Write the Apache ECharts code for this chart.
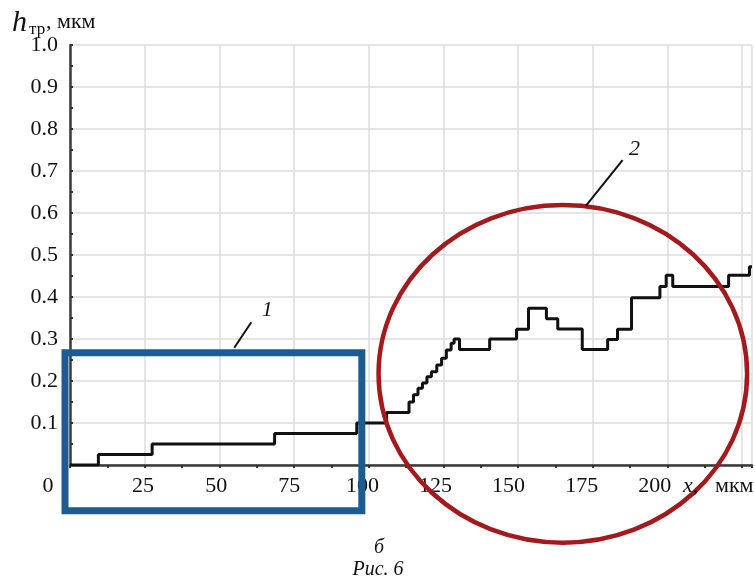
<!DOCTYPE html>
<html><head><meta charset="utf-8">
<script src="https://cdn.jsdelivr.net/npm/echarts@6/dist/echarts.min.js"></script>
<style>html,body{margin:0;padding:0;background:#fff}#c{width:755px;height:582px}</style>
</head><body><div id="c"></div>
<script>
// Step profile: x (мкм) where the value changes, and the new value h (мкм)
const stepX = [0, 9.5, 27.5, 68.5, 96, 106, 113.5, 115, 116.5, 118, 119.5, 121, 122.8, 124.4, 126, 127.6, 128.6, 130.4, 140.5, 149.5, 153.5, 159.5, 163.3, 171.5, 180, 183.3, 188, 197.5, 199.6, 201.8, 220.5, 227.5, 228.33];
const stepY = [0, 0.025, 0.05, 0.075, 0.1, 0.125, 0.15, 0.167, 0.183, 0.195, 0.21, 0.222, 0.238, 0.254, 0.274, 0.29, 0.3, 0.275, 0.3, 0.323, 0.373, 0.348, 0.324, 0.275, 0.299, 0.323, 0.398, 0.425, 0.452, 0.425, 0.452, 0.472, 0.472];
const xTickLabels = ['25', '50', '75', '100', '125', '150', '175', '200'];
const yTickLabels = ['0.1', '0.2', '0.3', '0.4', '0.5', '0.6', '0.7', '0.8', '0.9', '1.0'];
// Annotations in data units
const box1 = [-1.67, 0.267, 97.7, -0.109];       // x0, yTop, x1, yBottom
const ellipse2 = [165, 0.217, 61.7, 0.402];       // cx, cy, rx, ry
const leader1 = [[55, 0.279], [60.7, 0.340]];
const label1 = [66, 0.368];
const leader2 = [[172.7, 0.617], [185, 0.726]];
const label2 = [189, 0.752];

const FONT = 'Liberation Serif';
const data = stepX.map((x, i) => [x, stepY[i]]);

const chart = echarts.init(document.getElementById('c'), null, {renderer: 'canvas'});
const option = {
  backgroundColor: '#fff',
  animation: false,
  grid: {left: 70, right: 0, top: 45, bottom: 117},
  xAxis: [
    {type: 'value', position: 'bottom', min: 0, max: 228.33, interval: 25,
     axisLine: {show: true, onZero: false, lineStyle: {color: '#b8b8b8', width: 1.5}},
     axisTick: {show: false}, axisLabel: {show: false},
     splitLine: {show: true, lineStyle: {color: '#dcdcdc', width: 1.5}}},
    {type: 'value', position: 'top', min: 0, max: 228.33, interval: 25,
     axisLine: {show: true, lineStyle: {color: '#3a3a3a', width: 2.5}},
     axisTick: {show: true, inside: true, length: 3, lineStyle: {color: '#333', width: 2}},
     minorTick: {show: true, splitNumber: 2, length: 3, lineStyle: {color: '#333', width: 2}},
     axisLabel: {show: false}, splitLine: {show: false}},
    {type: 'value', position: 'bottom', min: 0, max: 685 / 2.937, interval: 25,
     axisLine: {show: false}, axisTick: {show: false}, splitLine: {show: false},
     axisLabel: {show: true, margin: 10, fontFamily: FONT, fontSize: 22, color: '#111',
       formatter: v => { const s = String(Math.round(v)); return xTickLabels.includes(s) ? s : ''; }}}
  ],
  yAxis: {type: 'value', min: 0, max: 1, interval: 0.1,
    axisLine: {show: true, lineStyle: {color: '#3a3a3a', width: 2.5}},
    axisTick: {show: true, inside: true, length: 3, lineStyle: {color: '#333', width: 2}},
    minorTick: {show: true, splitNumber: 2, length: 3, lineStyle: {color: '#333', width: 2}},
    axisLabel: {margin: 12, padding: [5, 0, 0, 0], fontFamily: FONT, fontSize: 22, color: '#111',
      formatter: v => { const s = v.toFixed(1); return yTickLabels.includes(s) ? s : ''; }},
    splitLine: {show: true, lineStyle: {color: '#dcdcdc', width: 1.5}}},
  series: [{type: 'line', xAxisIndex: 0, yAxisIndex: 0, step: 'end', data: data,
    symbol: 'none', lineStyle: {color: '#111', width: 3}, z: 3}]
};
chart.setOption(option);

const P = p => chart.convertToPixel({xAxisIndex: 0, yAxisIndex: 0}, p);
const b0 = P([box1[0], box1[1]]), b1 = P([box1[2], box1[3]]);
const ec = P([ellipse2[0], ellipse2[1]]);
const erx = P([ellipse2[0] + ellipse2[2], ellipse2[1]])[0] - ec[0];
const ery = ec[1] - P([ellipse2[0], ellipse2[1] + ellipse2[3]])[1];
const l1a = P(leader1[0]), l1b = P(leader1[1]), t1 = P(label1);
const l2a = P(leader2[0]), l2b = P(leader2[1]), t2 = P(label2);

const txt = (x, y, s, size, opts) => Object.assign({type: 'text', x: x, y: y, z: 100,
  style: Object.assign({text: s, fontFamily: FONT, fontSize: size, fill: '#111',
    verticalAlign: 'middle', align: 'left'}, opts || {})});

chart.setOption({graphic: [
  {type: 'rect', z: 50, shape: {x: b0[0], y: b0[1], width: b1[0] - b0[0], height: b1[1] - b0[1]},
   style: {fill: 'none', stroke: '#1d5b91', lineWidth: 7}},
  {type: 'ellipse', z: 50, shape: {cx: ec[0], cy: ec[1], rx: erx, ry: ery},
   style: {fill: 'none', stroke: '#a01a1e', lineWidth: 4.5}},
  {type: 'line', z: 50, shape: {x1: l1a[0], y1: l1a[1], x2: l1b[0], y2: l1b[1]}, style: {stroke: '#111', lineWidth: 2}},
  {type: 'line', z: 50, shape: {x1: l2a[0], y1: l2a[1], x2: l2b[0], y2: l2b[1]}, style: {stroke: '#111', lineWidth: 2}},
  txt(t1[0], t1[1], '1', 22, {fontStyle: 'italic', align: 'center'}),
  txt(t2[0], t2[1], '2', 22, {fontStyle: 'italic', align: 'center'}),
  txt(12, 23, 'h', 30, {fontStyle: 'italic'}),
  txt(29, 30, 'тр', 17),
  txt(46, 22, ', мкм', 22),
  txt(48, 486, '0', 22, {align: 'center'}),
  txt(683, 486, 'x,', 22, {fontStyle: 'italic'}),
  txt(715, 486, 'мкм', 22),
  txt(379, 548, 'б', 20, {fontStyle: 'italic', align: 'center'}),
  txt(378, 570, 'Рис. 6', 20, {fontStyle: 'italic', align: 'center'})
]});
</script>
</body></html>
